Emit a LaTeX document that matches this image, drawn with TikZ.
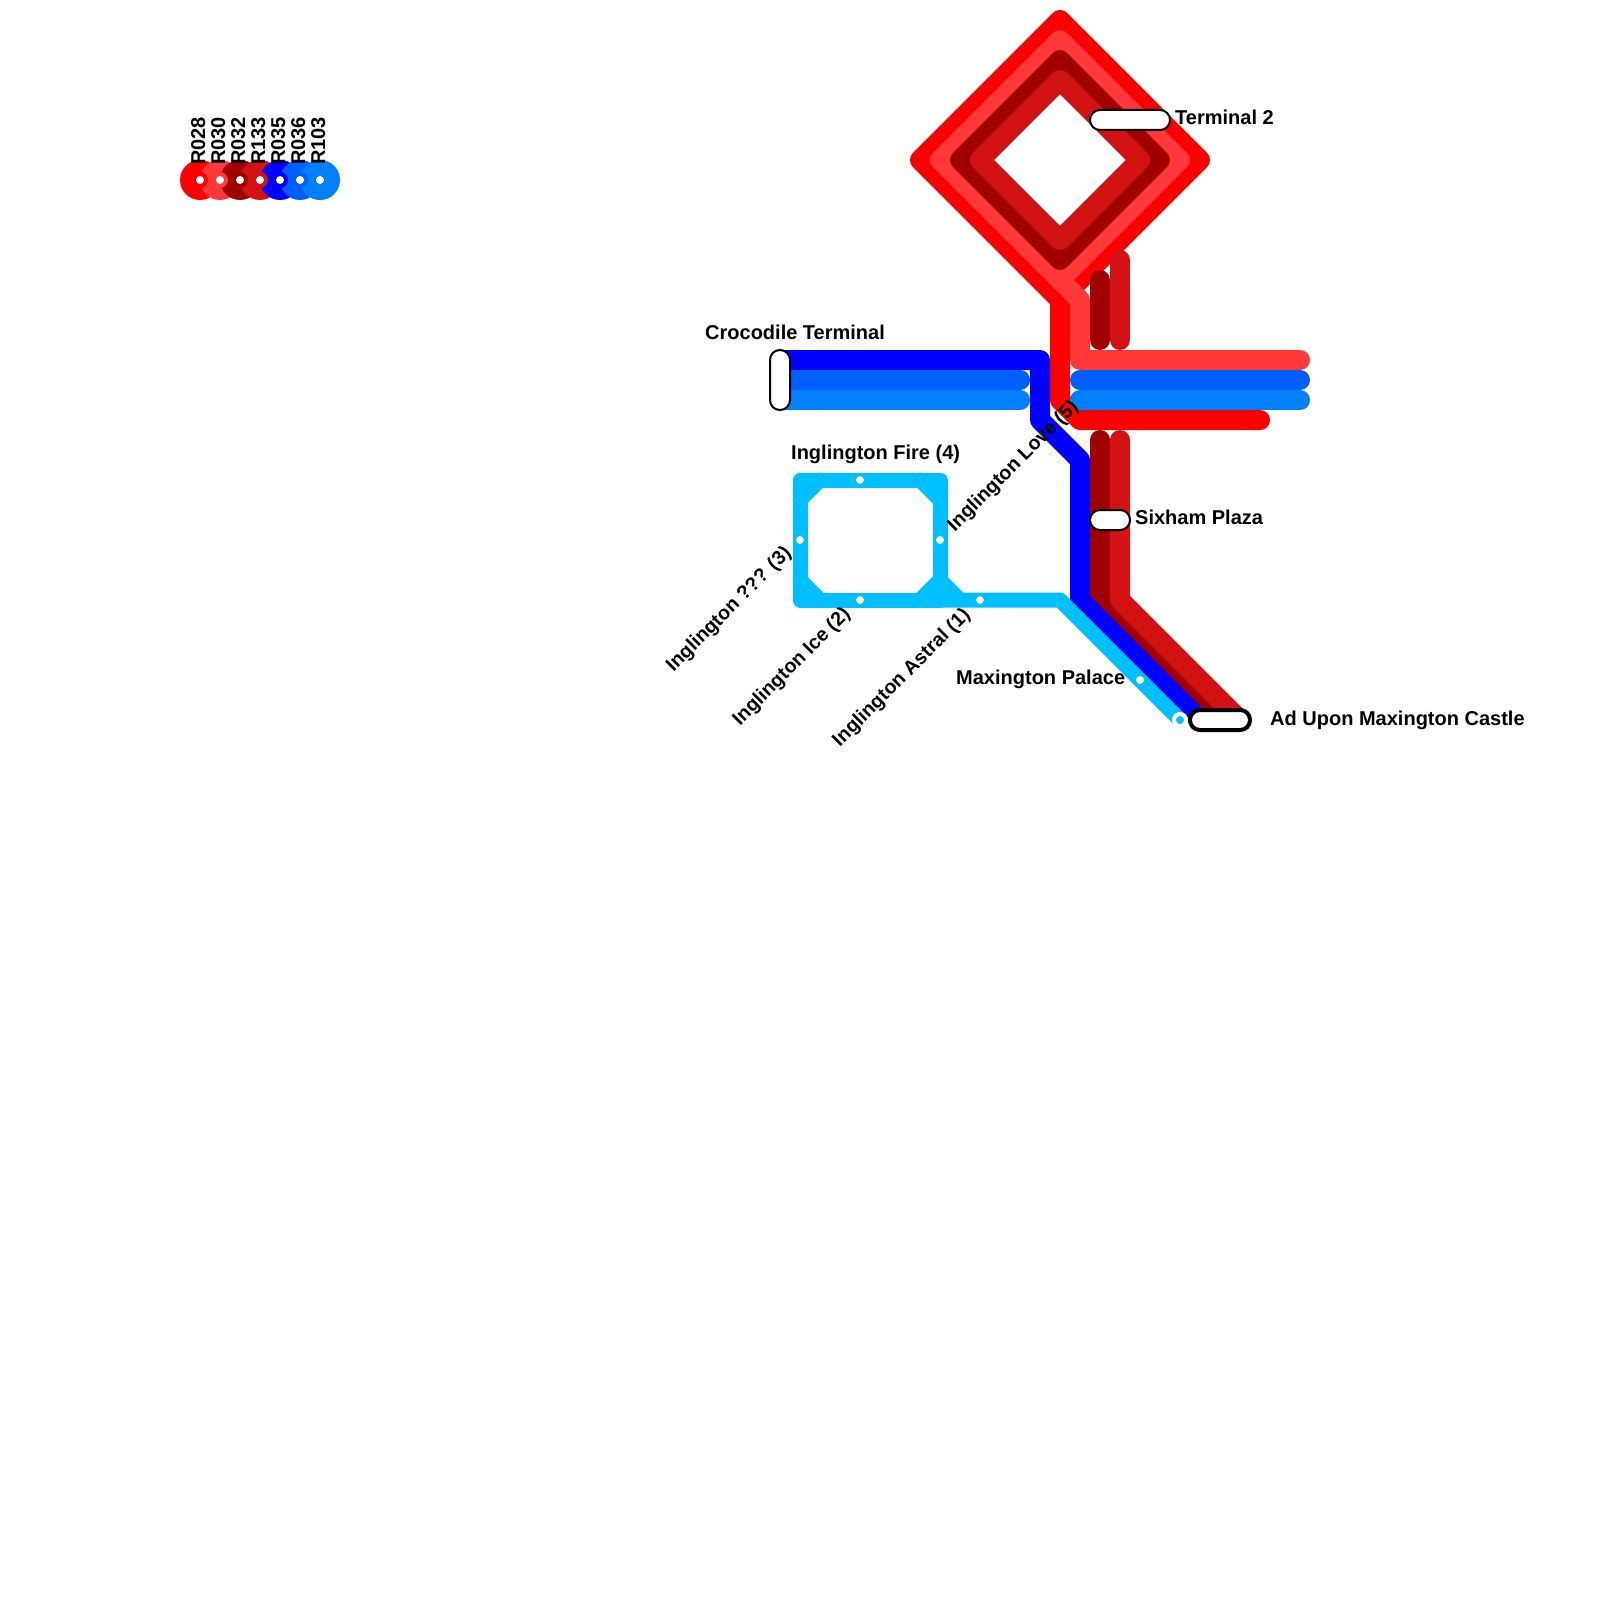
\documentclass[tikz,border=0pt]{standalone}
\usepackage{fontspec}
\setmainfont{Liberation Sans}
\definecolor{rA}{HTML}{FF0000}
\definecolor{rB}{HTML}{FF3939}
\definecolor{rC}{HTML}{A00000}
\definecolor{rD}{HTML}{D31313}
\definecolor{bA}{HTML}{0000FF}
\definecolor{bB}{HTML}{0060FF}
\definecolor{bC}{HTML}{0080FF}
\definecolor{cy}{HTML}{00BFFF}
\tikzset{
 route/.style={line width=20pt,line cap=round,line join=round},
 ring/.style={line width=15pt,line cap=round,line join=round,draw=cy},
 stn/.style={draw=black,fill=white,line width=2pt,rounded corners=9.9pt,inner sep=0pt,minimum width=#1,minimum height=20pt},
 stnv/.style={draw=black,fill=white,line width=2pt,rounded corners=9.9pt,inner sep=0pt,minimum width=20pt,minimum height=#1},
 dotw/.style={circle,fill=white,minimum size=8pt,inner sep=0pt},
 lbl/.style={font=\fontsize{20}{24}\selectfont\bfseries,text=black,inner sep=0pt},
 lblr/.style={font=\fontsize{19.6}{24}\selectfont\bfseries,text=black,inner sep=0pt,anchor=base east,rotate=45},
 lgd/.style={circle,minimum size=40pt,inner sep=0pt},
 lgdin/.style={circle,minimum size=16pt,inner sep=0pt},
}
\begin{document}
\begin{tikzpicture}[x=1pt,y=-1pt]
\useasboundingbox (0,0) rectangle (1600,1600);
\fill[white] (0,0) rectangle (1600,1600);
% legend
\foreach \n/\x/\c in {a/200/rA,b/220/rB,c/240/rC,d/260/rD,e/280/bA,f/300/bB,g/320/bC}{
  \node[lgd,fill=\c] (leg\n) at (\x,180) {};
}
\foreach \n/\x/\c/\t in {a/200/rA/R028,b/220/rB/R030,c/240/rC/R032,d/260/rD/R133,e/280/bA/R035,f/300/bB/R036,g/320/bC/R103}{
  \node[lgdin,fill=\c] (legi\n) at (\x,180) {};
  \node[dotw] (legd\n) at (\x,180) {};
  \node[lbl,rotate=90,anchor=base west] (legt\n) at (\x+5,165) {\t};
}
% routes
\draw[route,draw=rA] (1060,300) -- (920,160) -- (1060,20) -- (1200,160) -- cycle;
\draw[route,draw=rA] (1060,300) -- (1060,400) -- (1080,420) -- (1260,420);
\draw[route,draw=rB] (1060,280) -- (940,160) -- (1060,40) -- (1180,160) -- cycle;
\draw[route,draw=rB] (1060,280) -- (1080,300) -- (1080,360) -- (1300,360);
\draw[route,draw=rC] (1060,260) -- (960,160) -- (1060,60) -- (1160,160) -- cycle;
\draw[route,draw=rC] (1100,280) -- (1100,340);
\draw[route,draw=rC] (1100,440) -- (1100,600) -- (1220,720);
\draw[route,draw=rD] (1060,240) -- (980,160) -- (1060,80) -- (1140,160) -- cycle;
\draw[route,draw=rD] (1120,260) -- (1120,340);
\draw[route,draw=rD] (1120,440) -- (1120,600) -- (1240,720);
\draw[route,draw=bA] (780,360) -- (1040,360) -- (1040,420) -- (1080,460) -- (1080,600) -- (1200,720);
\draw[route,draw=bB] (780,380) -- (1020,380);
\draw[route,draw=bB] (1080,380) -- (1300,380);
\draw[route,draw=bC] (780,400) -- (1020,400);
\draw[route,draw=bC] (1080,400) -- (1300,400);
% cyan ring
\draw[ring] (800,480) rectangle (940,600);
\draw[ring] (800,500) -- (820,480);
\draw[ring] (920,480) -- (940,500);
\draw[ring] (800,580) -- (820,600);
\draw[ring] (920,600) -- (940,580);
\draw[ring] (940,580) -- (960,600);
\draw[ring] (940,600) -- (1060,600) -- (1180,720);
% dots
\node[dotw] (d1) at (860,480) {};
\node[dotw] (d2) at (800,540) {};
\node[dotw] (d3) at (940,540) {};
\node[dotw] (d4) at (860,600) {};
\node[dotw] (d5) at (980,600) {};
\node[dotw] (d6) at (1140,680) {};
\node[circle,fill=cy,draw=white,line width=4pt,minimum size=12pt,inner sep=0pt] (d7) at (1180,720) {};
% stations
\node[stn=80pt] (t2) at (1130,120) {};
\node[stnv=60pt] (croc) at (780,380) {};
\node[stn=40pt] (six) at (1110,520) {};
\node[stn=60pt,line width=4pt] (ad) at (1220,720) {};
% labels
\node[lbl,anchor=base west] (lt2) at (1175,124.5) {Terminal 2};
\node[lbl,anchor=base west] (lcr) at (705,339) {Crocodile Terminal};
\node[lbl,anchor=base west] (lfi) at (791,459) {Inglington Fire (4)};
\node[lbl,anchor=base west] (lsi) at (1135,524) {Sixham Plaza};
\node[lbl,anchor=base west] (lad) at (1270,725) {Ad Upon Maxington Castle};
\node[lbl,anchor=base west] (lma) at (956,684) {Maxington Palace};
\node[lblr] (l3) at (792,554) {Inglington ??? (3)};
\node[lblr] (l2) at (851,615) {Inglington Ice (2)};
\node[lblr] (l1) at (971,616) {Inglington Astral (1)};
\node[lblr] (l5) at (1079,408) {Inglington Love (5)};
\end{tikzpicture}
\end{document}
